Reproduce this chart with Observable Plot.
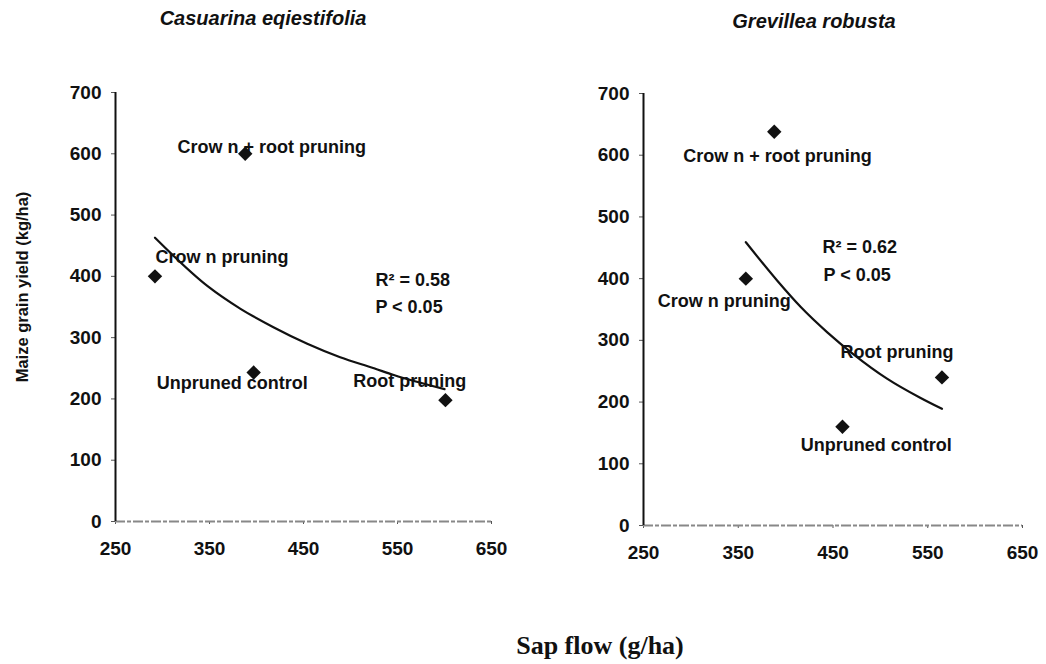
<!DOCTYPE html>
<html>
<head>
<meta charset="utf-8">
<script src="https://cdn.jsdelivr.net/npm/d3@7"></script>
<script src="https://cdn.jsdelivr.net/npm/@observablehq/plot@0.6"></script>
<style>
  body { margin: 0; background: #fff; }
  #wrap { position: relative; width: 1046px; height: 664px; background: #fff; overflow: hidden; }
  .panel { position: absolute; top: 0; }
  .title { position: absolute; font: italic bold 20px "Liberation Sans", Arial, sans-serif; line-height: 20px; text-align: center; white-space: nowrap; color: #111; }
  .ylab { position: absolute; left: 22px; top: 287px; transform: translate(-50%, -50%) rotate(-90deg); font: bold 16.5px "Liberation Sans", Arial, sans-serif; white-space: nowrap; color: #111; }
  .xlab { position: absolute; left: 400px; width: 400px; top: 633px; text-align: center; font: bold 26px "Liberation Serif", "Times New Roman", serif; line-height: 26px; color: #111; }
</style>
</head>
<body>
<div id="wrap">
  <div class="title" style="left:63px; width:400px; top:8px;">Casuarina eqiestifolia</div>
  <div class="title" style="left:614px; width:400px; top:11px;">Grevillea robusta</div>
  <div class="ylab">Maize grain yield (kg/ha)</div>
  <div class="xlab">Sap flow (g/ha)</div>
  <div id="left" class="panel" style="left:0px;"></div>
  <div id="right" class="panel" style="left:523px;"></div>
</div>
<script>
// Tick values
const xTicks = [250, 350, 450, 550, 650];
const yTicks = [0, 100, 200, 300, 400, 500, 600, 700];

// Treatments (as labelled in the figure)
const treatments = ["Crow n + root pruning", "Crow n pruning", "Unpruned control", "Root pruning"];

// Casuarina equisetifolia: sap flow (g/ha) vs maize grain yield (kg/ha)
const casSap   = [388, 292, 397, 601];
const casYield = [600, 400, 243, 198];
// fitted trend line
const casFitSap   = [292, 348, 383, 418, 454, 489, 525, 546, 600];
const casFitYield = [463, 384, 347, 317, 290, 268, 250, 239, 216];
// label anchor positions (data units)
const casLabelSap   = [316, 292.5, 294, 503];
const casLabelYield = [611, 431, 225, 229.5];
const casStats = ["R\u00B2 = 0.58", "P < 0.05"];
const casStatsSap = [526.5, 526.5];
const casStatsYield = [394, 350];

// Grevillea robusta
const grevSap   = [388, 358, 460, 565];
const grevYield = [638, 400, 160, 240];
const grevFitSap   = [358, 391, 416, 444, 472, 507, 542, 565];
const grevFitYield = [459, 397, 354, 313, 277, 238, 207, 189];
const grevLabelSap   = [292, 265, 416, 458];
const grevLabelYield = [598, 363, 130, 280];
const grevStats = ["R\u00B2 = 0.62", "P < 0.05"];
const grevStatsSap = [439, 440];
const grevStatsYield = [451, 405];

function makePanel(opts) {
  const pts = opts.sap.map((s, i) => ({x: s, y: opts.yield[i]}));
  const fit = opts.fitSap.map((s, i) => ({x: s, y: opts.fitYield[i]}));
  const labels = treatments.map((t, i) => ({x: opts.labelSap[i], y: opts.labelYield[i], text: t}));
  const stats = opts.stats.map((t, i) => ({x: opts.statsSap[i], y: opts.statsYield[i], text: t}));
  return Plot.plot({
    width: 523,
    height: 580,
    marginLeft: opts.ml,
    marginRight: opts.mr,
    marginTop: opts.mt,
    marginBottom: opts.mb,
    x: {domain: [250, 650]},
    y: {domain: [0, 700]},
    style: {fontFamily: "'Liberation Sans', Arial, sans-serif", fontSize: "19px", fontWeight: "bold", color: "#111", background: "transparent", overflow: "visible"},
    marks: [
      Plot.axisY({ticks: yTicks, tickSize: 4, tickPadding: 10, label: null, stroke: "#555", fontSize: 19, fontWeight: "bold", fill: "#111"}),
      Plot.axisX({ticks: xTicks, tickSize: 3, tickPadding: 17, label: null, stroke: "#555", fontSize: 19, fontWeight: "bold", fill: "#111"}),
      Plot.ruleY([0], {x1: 250, x2: 650, stroke: "#888", strokeWidth: 2, strokeDasharray: "10,2,4,2"}),
      Plot.ruleX([250], {y1: 0, y2: 700, stroke: "#111", strokeWidth: 2}),
      Plot.line(fit, {x: "x", y: "y", curve: "monotone-x", stroke: "#111", strokeWidth: 2.2}),
      Plot.dot(pts, {x: "x", y: "y", symbol: "diamond2", r: 6.5, fill: "#111", stroke: "none"}),
      Plot.text(labels, {x: "x", y: "y", text: "text", textAnchor: "start", fontSize: 18, fontWeight: "bold", fill: "#111"}),
      Plot.text(stats, {x: "x", y: "y", text: "text", textAnchor: "start", fontSize: 18, fontWeight: "bold", fill: "#111"})
    ]
  });
}

document.getElementById("left").appendChild(makePanel({
  sap: casSap, yield: casYield, fitSap: casFitSap, fitYield: casFitYield,
  labelSap: casLabelSap, labelYield: casLabelYield,
  stats: casStats, statsSap: casStatsSap, statsYield: casStatsYield,
  ml: 115, mr: 32, mt: 92, mb: 59
}));
document.getElementById("right").appendChild(makePanel({
  sap: grevSap, yield: grevYield, fitSap: grevFitSap, fitYield: grevFitYield,
  labelSap: grevLabelSap, labelYield: grevLabelYield,
  stats: grevStats, statsSap: grevStatsSap, statsYield: grevStatsYield,
  ml: 120, mr: 24, mt: 93, mb: 55
}));
</script>
</body>
</html>
